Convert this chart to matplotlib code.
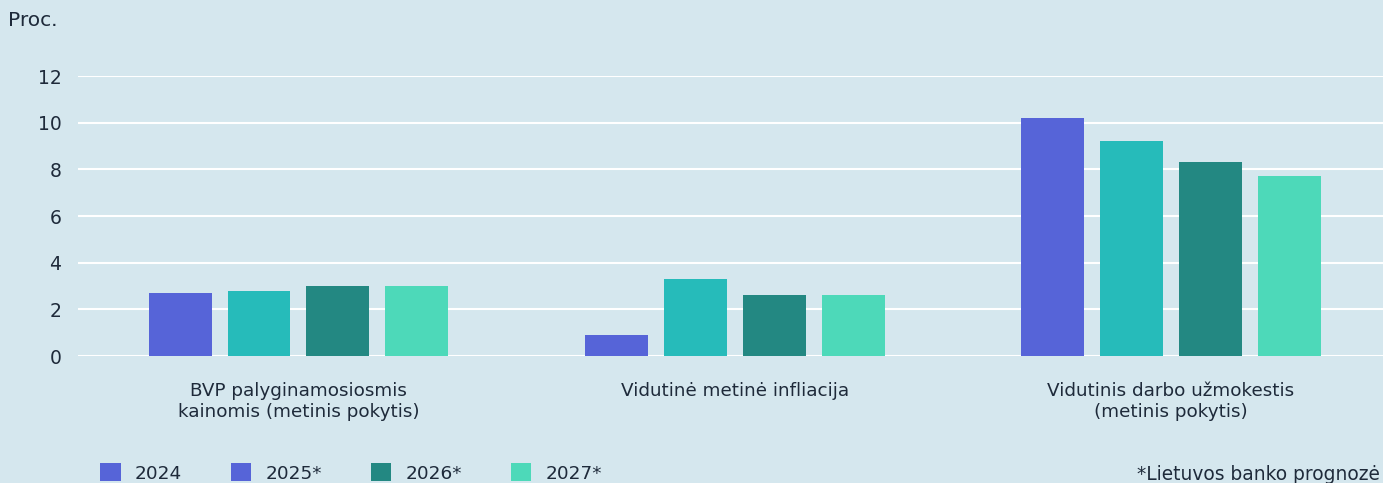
import numpy as np
import matplotlib.pyplot as plt
from matplotlib.patches import Patch

plt.rcParams['font.family'] = ['DejaVu Sans']

categories = ['BVP palyginamosiosmis\nkainomis (metinis pokytis)',
              'Vidutinė metinė infliacija',
              'Vidutinis darbo užmokestis\n(metinis pokytis)']
years = ['2024', '2025*', '2026*', '2027*']
values = {
    '2024': [2.7, 0.9, 10.2],
    '2025*': [2.8, 3.3, 9.2],
    '2026*': [3.0, 2.6, 8.3],
    '2027*': [3.0, 2.6, 7.7],
}
bar_colors = ['#5664D8', '#26BBBA', '#238882', '#4DD9B9']
legend_colors = ['#5664D8', '#5664D8', '#238882', '#4DD9B9']
yticks = [0, 2, 4, 6, 8, 10, 12]

bg = '#D5E7EE'
txt = '#1E2A3A'

fig = plt.figure(figsize=(13.83, 4.83), dpi=100, facecolor=bg)
ax = fig.add_axes([78 / 1383, 1 - 356 / 483, 1305 / 1383, 280 / 483])
ax.set_facecolor(bg)

x = np.arange(len(categories))
width = 0.1444
step = 0.181
for i, yr in enumerate(years):
    offs = (i - 1.5) * step
    ax.bar(x + offs, values[yr], width, color=bar_colors[i], zorder=3)

ax.set_xlim(-0.5054, 2.486)
ax.set_ylim(0, 12)
ax.set_yticks(yticks)
ax.set_yticklabels([str(t) for t in yticks], fontsize=13.5, color=txt)
ax.set_xticks(x)
ax.set_xticklabels(categories, fontsize=13.2, color=txt, linespacing=1.2)
ax.tick_params(axis='both', length=0)
ax.tick_params(axis='y', pad=12)
ax.tick_params(axis='x', pad=19)
ax.grid(axis='y', color='white', linewidth=1.5, zorder=0)
for s in ax.spines.values():
    s.set_visible(False)

fig.text(8 / 1383, 1 - 20 / 483, 'Proc.', fontsize=14.5, color=txt, va='center', ha='left')

handles = [Patch(facecolor=c, edgecolor='none') for c in legend_colors]
fig.legend(handles, years, loc='center left', bbox_to_anchor=(100 / 1383, 1 - 473 / 483),
           ncol=4, frameon=False, fontsize=13.3, labelcolor=txt,
           handlelength=1.12, handleheight=1.12, handletextpad=0.75,
           columnspacing=2.65, borderaxespad=0, borderpad=0)

fig.text(1380 / 1383, 1 - 474 / 483, '*Lietuvos banko prognozė', fontsize=13.4,
         color=txt, va='center', ha='right')

fig.savefig('out.png', dpi=100, facecolor=bg)
